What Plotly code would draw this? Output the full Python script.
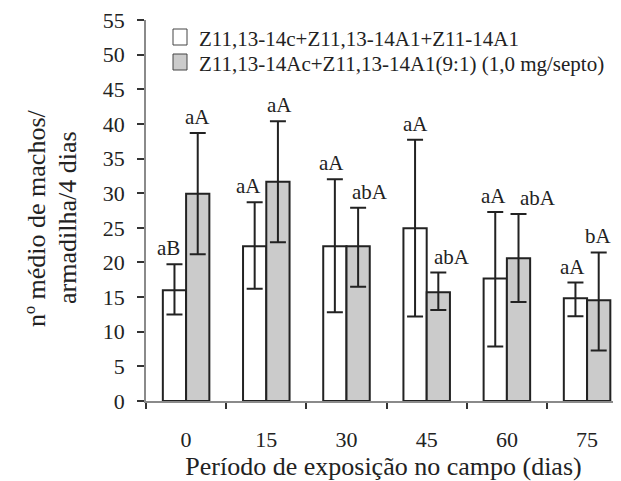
import plotly.graph_objects as go

categories = ["0", "15", "30", "45", "60", "75"]
series_names = ["Z11,13-14c+Z11,13-14A1+Z11-14A1",
                "Z11,13-14Ac+Z11,13-14A1(9:1) (1,0 mg/septo)"]
white_mean = [16.0, 22.35, 22.35, 24.95, 17.7, 14.85]
white_plus = [3.75, 6.35, 9.65, 12.75, 9.6, 2.25]
white_minus = [3.5, 6.15, 9.55, 12.75, 9.85, 2.6]
gray_mean = [29.9, 31.65, 22.35, 15.7, 20.6, 14.55]
gray_plus = [8.8, 8.75, 5.55, 2.85, 6.4, 6.9]
gray_minus = [8.7, 8.75, 5.85, 2.55, 6.3, 7.25]
white_letters = ["aB", "aA", "aA", "aA", "aA", "aA"]
gray_letters = ["aA", "aA", "abA", "abA", "abA", "bA"]
y_ticks = [0, 5, 10, 15, 20, 25, 30, 35, 40, 45, 50, 55]
x_title = "Período de exposição no campo (dias)"
y_title_lines = ["nº médio de machos/", "armadilha/4 dias"]

# ---- style / layout constants (not data) ----
white_dx = [-6, -6, -3, 0, -2, -3]
gray_dx = [0, 2, 12, 14, 19, 0]
FONT = "Liberation Serif"
DARK = "#222222"
FILL_GRAY = "#cbcbcb"
# page has an 8px body margin; figure is shrunk/shifted to compensate
PAGE_OFF = 8
W, H = 621 - PAGE_OFF, 481 - PAGE_OFF
ML, MR, MT, MB = 138, 0, 12, 80
PW, PH = W - ML - MR, H - MT - MB


def px(xpage):
    return (xpage - PAGE_OFF - ML) / PW


def py(ypage):
    return 1 - (ypage - PAGE_OFF - MT) / PH


fig = go.Figure()
fig.add_trace(go.Bar(
    x=categories, y=white_mean, name=series_names[0],
    marker=dict(color="white", line=dict(color=DARK, width=2)),
    error_y=dict(type="data", symmetric=False, array=white_plus,
                 arrayminus=white_minus, color=DARK, thickness=2, width=8),
))
fig.add_trace(go.Bar(
    x=categories, y=gray_mean, name=series_names[1],
    marker=dict(color=FILL_GRAY, line=dict(color=DARK, width=2)),
    error_y=dict(type="data", symmetric=False, array=gray_plus,
                 arrayminus=gray_minus, color=DARK, thickness=2, width=8),
))

annotations = []
bar_off = 0.145
for i in range(len(categories)):
    annotations.append(dict(
        x=i - bar_off, y=white_mean[i] + white_plus[i], xref="x", yref="y",
        text=white_letters[i], showarrow=False, yanchor="middle",
        yshift=16, xshift=white_dx[i], font=dict(family=FONT, size=21, color=DARK)))
    annotations.append(dict(
        x=i + bar_off, y=gray_mean[i] + gray_plus[i], xref="x", yref="y",
        text=gray_letters[i], showarrow=False, yanchor="middle",
        yshift=16, xshift=gray_dx[i], font=dict(family=FONT, size=21, color=DARK)))

# manual legend (tight row spacing as in the original)
legend_rows_y = [37, 62]
fills = ["white", FILL_GRAY]
shapes = []
for name, yc, fc in zip(series_names, legend_rows_y, fills):
    shapes.append(dict(type="rect", xref="paper", yref="paper",
                       x0=px(173), x1=px(187), y0=py(yc - 8), y1=py(yc + 8),
                       fillcolor=fc, line=dict(color="#444444", width=1)))
    annotations.append(dict(x=px(197), y=py(yc + 2), xref="paper", yref="paper",
                            text=name, showarrow=False, xanchor="left", yanchor="middle",
                            font=dict(family=FONT, size=21, color=DARK)))

# y axis title: two rotated lines
for line, xc in zip(y_title_lines, [36, 67]):
    annotations.append(dict(x=px(xc), y=py(218), xref="paper", yref="paper",
                            text=line, showarrow=False, textangle=-90,
                            xanchor="center", yanchor="middle",
                            font=dict(family=FONT, size=26, color=DARK)))

fig.update_layout(
    width=W, height=H,
    margin=dict(l=ML, r=MR, t=MT, b=MB, autoexpand=False),
    paper_bgcolor="white", plot_bgcolor="white",
    font=dict(family=FONT, size=22, color=DARK),
    barmode="group", bargap=0.42, bargroupgap=0,
    showlegend=False,
    annotations=annotations, shapes=shapes,
)
fig.update_xaxes(
    type="category", range=[-0.5, 5.423],
    showline=True, linecolor="#8a8a8a", linewidth=1.5,
    ticks="outside", tickson="boundaries", ticklen=6, tickcolor="#333333", tickwidth=1.5,
    ticklabelstandoff=18, showgrid=False, zeroline=False, ticklabeloverflow="allow",
    tickfont=dict(family=FONT, size=22, color=DARK),
    title=dict(text=x_title, standoff=3,
               font=dict(family=FONT, size=26, color=DARK)),
)
fig.update_yaxes(
    range=[0, 55], tickvals=y_ticks,
    showline=True, linecolor="#8a8a8a", linewidth=1.5,
    ticks="outside", ticklen=7, tickcolor="#333333", tickwidth=1.5,
    ticklabelstandoff=8, showgrid=False, zeroline=False, ticklabeloverflow="allow",
    tickfont=dict(family=FONT, size=22, color=DARK),
)

fig.write_html("out.html")
